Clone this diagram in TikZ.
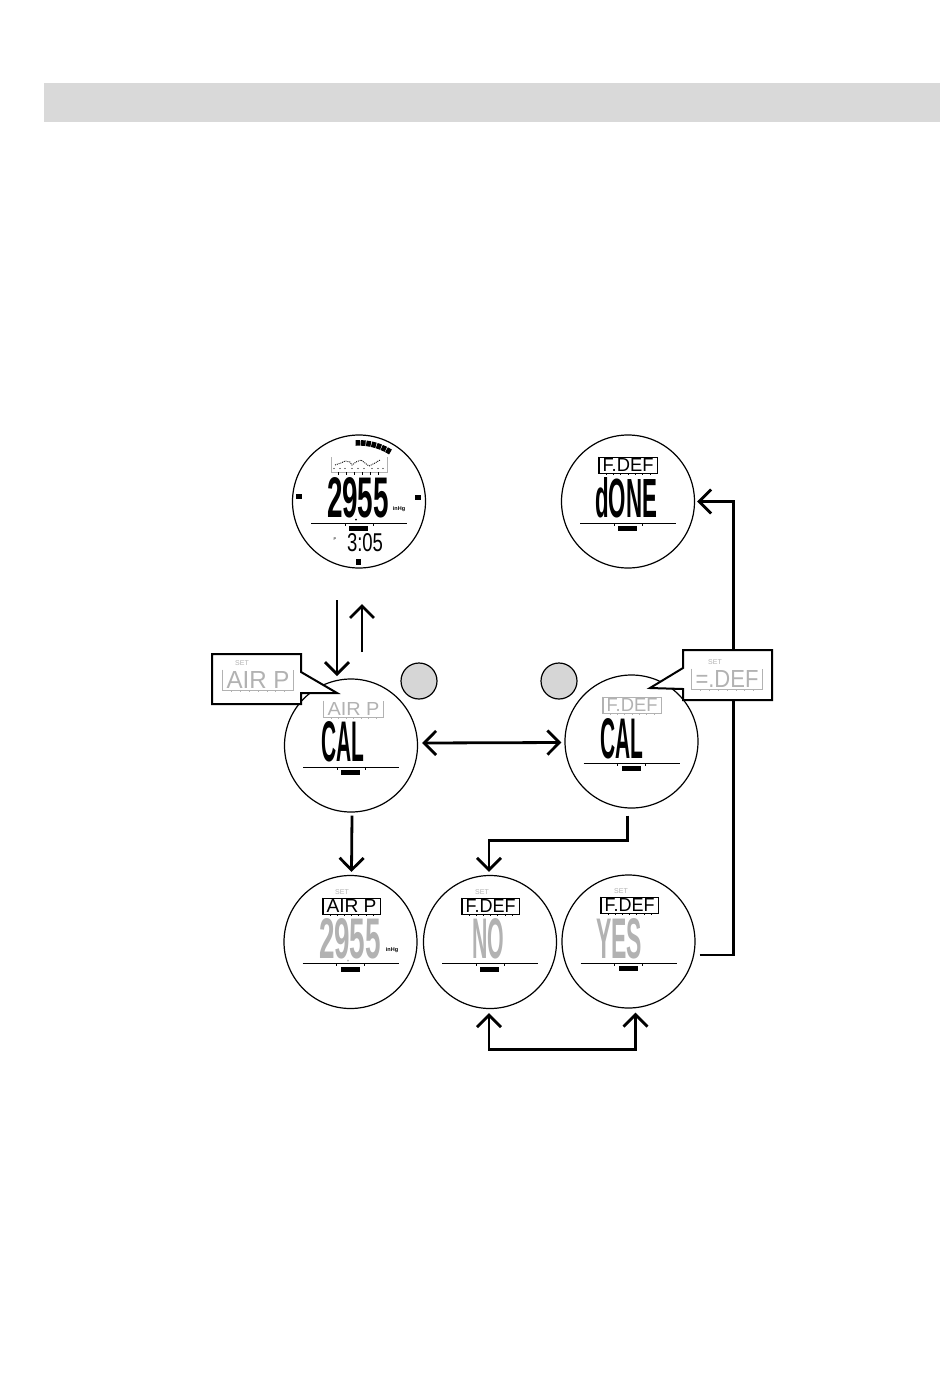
\documentclass[tikz,border=0pt]{standalone}
\usepackage{graphicx}
\usepackage{fontspec}
\setmainfont{Liberation Sans}
\usepackage{tikz}
\usetikzlibrary{arrows.meta, positioning, calc}
\definecolor{bandgrey}{gray}{0.85}
\definecolor{lcdgrey}{gray}{0.70}
\definecolor{discgrey}{gray}{0.84}
\tikzset{
    dial/.style={draw, circle, line width=1.2pt, fill=white, minimum size=133pt, inner sep=0pt},
    flow/.style={line width=2.8pt, -{Straight Barb[length=12pt, width=24pt]}},
    twoway/.style={line width=2.8pt, {Straight Barb[length=12pt, width=24pt]}-{Straight Barb[length=12pt, width=24pt]}},
    callout/.style={draw, fill=white, line width=2pt, miter limit=10},
    disc/.style={draw, circle, fill=discgrey, line width=1.2pt, minimum size=36pt, inner sep=0pt},
    tagbox/.style={inner sep=0pt, line width=0.6pt},
    smalltxt/.style={inner sep=0pt, font=\fontsize{7}{7}\selectfont}
}
\newcommand{\tagh}{13}
% dial with the rule, the bar and two ticks
\newcommand{\lcddial}[3]{
    \node[dial] (#1) at (#2,#3) {};
    \draw[line width=1pt] ($(#1.center)+(-48,21.5)$) -- ($(#1.center)+(48,21.5)$);
    \fill ($(#1.center)+(-10,24.5)$) rectangle ($(#1.center)+(9,29.5)$);
    \draw[line width=0.6pt] ($(#1.center)+(-14,21.5)$) -- ++(0,2.5);
    \draw[line width=0.6pt] ($(#1.center)+(14,21.5)$) -- ++(0,2.5);
}
% big segment text
\newcommand{\lcdbig}[6]{
    \node[inner sep=0pt, text=#5] (#1) at (#2,#3) {\resizebox{#4pt}{40pt}{\bfseries #6}};
}
% bracketed label with ticks
\newcommand{\lcdtag}[7][draw=none]{
    \node[tagbox, minimum width=#5pt, minimum height=\tagh pt+3pt, text=#6, #1] (#2) at (#3,#4) {\resizebox{\dimexpr#5pt-7pt}{\tagh pt}{#7}};
    \draw[#6, line width=0.7pt] (#2.north west) -- (#2.south west) -- (#2.south east) -- (#2.north east);
    \foreach \k in {1,...,7}
        \draw[#6, line width=0.6pt] ($(#2.south west)!\k/8!(#2.south east)$) -- ++(0,2);
}

\begin{document}
\begin{tikzpicture}[x=1pt, y=-1pt]
    \useasboundingbox (0,0) rectangle (950,1398);
    % Header band
    \fill[bandgrey] (44,83) rectangle (940,122);

    % Top left dial
    \lcddial{baro}{359}{501.5}
    \lcdbig{barodigits}{358}{498}{62}{black}{2955}
    \fill (356,519.5) circle (1pt);
    \node[smalltxt, font=\fontsize{5.5}{6}\bfseries\selectfont] (barounit) at (399,509) {inHg};
    \node[smalltxt, font=\fontsize{4}{4}\selectfont] (barop) at (335,539) {P};
    \node[inner sep=0pt] (barotime) at (365,543) {\resizebox{36pt}{18pt}{3:05}};
    \fill ($(baro.center)+(-63,-8)$) rectangle ($(baro.center)+(-57,-3)$);
    \fill ($(baro.center)+(56,-7)$) rectangle ($(baro.center)+(62,-2)$);
    \fill ($(baro.center)+(-3.5,57)$) rectangle ($(baro.center)+(1.5,63)$);
    \foreach \k in {0,...,6}{
        \pgfmathsetmacro{\ang}{91-\k*5.2}
        \node[fill, inner sep=0pt, minimum width=4.6pt, minimum height=5.6pt, rotate=\ang-90] (arc\k) at ($(baro.center)+(-\ang:58.6)$) {};
    }
    % History graph
    \draw[lcdgrey, line width=0.6pt] (331,457) -- (331,472) -- (387,472) -- (387,457);
    \draw[line width=0.9pt, densely dotted] (335,465) -- (341,463) -- (345,461) -- (350,462) -- (352,465) -- (356,462) -- (361,460) -- (365,463) -- (369,466) -- (375,463) -- (380,460);
    \foreach \xx in {334,340,345,352,358,364,372,378,383}
        \fill (\xx,468.5) circle (0.7pt);
    \foreach \xx in {338,346,354,362,370,378}
        \draw[line width=0.5pt] (\xx,472) -- (\xx,474.5);

    % Done dial
    \lcddial{done}{628}{501.5}
    \lcdtag[draw=black]{donetag}{628}{465}{58}{black}{F.DEF}
    \lcdbig{donetext}{626}{498}{62}{black}{dONE}

    % Calibration dials
    \lcddial{cala}{351}{745.5}
    \lcdtag{calatag}{353.5}{709}{59}{lcdgrey}{AIR P}
    \lcdbig{calatext}{342.5}{742}{43}{black}{CAL}
    \lcddial{calb}{631.5}{741.5}
    \lcdtag[draw=lcdgrey]{calbtag}{632}{705}{58}{lcdgrey}{F.DEF}
    \lcdbig{calbtext}{621.5}{738.5}{43}{black}{CAL}

    % Bottom row
    \lcddial{setair}{350.5}{942}
    \lcdtag[draw=black]{setairtag}{351.5}{906}{57}{black}{AIR P}
    \lcdbig{setairtext}{350}{939}{62}{lcdgrey}{2955}
    \fill[lcdgrey] (348,960.5) circle (1pt);
    \node[smalltxt, font=\fontsize{5.5}{6}\bfseries\selectfont] (setairunit) at (392,950) {inHg};
    \node[smalltxt, text=lcdgrey] (setairset) at (342,892) {SET};
    \lcddial{setno}{490}{942}
    \lcdtag[draw=black]{setnotag}{490.5}{906}{57}{black}{F.DEF}
    \lcdbig{setnotext}{488}{939}{32}{lcdgrey}{NO}
    \node[smalltxt, text=lcdgrey] (setnoset) at (482,892) {SET};
    \lcddial{setyes}{628.5}{941.5}
    \lcdtag[draw=black]{setyestag}{629.5}{905}{57}{black}{F.DEF}
    \lcdbig{setyestext}{619}{938.5}{46}{lcdgrey}{YES}
    \node[smalltxt, text=lcdgrey] (setyesset) at (621,891) {SET};

    % Grey discs
    \node[disc] (disca) at (419,681) {};
    \node[disc] (discb) at (559,681) {};

    % Arrows
    \coordinate (downfrom) at (337,600);
    \coordinate (downto) at (337,676);
    \coordinate (upfrom) at (362,652);
    \coordinate (upto) at (362,604);
    \draw[flow] (downfrom) -- (downto);
    \draw[flow] (upfrom) -- (upto);
    \draw[twoway] ($(cala.east)+(4,-2.5)$) -- ($(calb.west)+(-3,1)$);
    \draw[flow] ($(cala.south)+(1,3)$) -- ($(setair.north)+(1,-3)$);
    \draw[flow] ($(calb.south)+(-4,7)$) -- ++(0,25) -| ($(setno.north)+(-1,-3)$);
    \draw[twoway] ($(setno.south)+(-1,4)$) -- ++(0,36) -| ($(setyes.south)+(7,4)$);
    \draw[flow] ($(setyes.east)+(4,13.5)$) -- ++(34,0) |- ($(done.east)+(2,0)$);

    % Callouts
    \renewcommand{\tagh}{17}
    \draw[callout] (212,654) -- (301,654) -- (301,672) -- (337,693) -- (301,693) -- (301,704) -- (212,704) -- cycle;
    \node[smalltxt, text=lcdgrey] (setleft) at (242,663) {SET};
    \lcdtag{lefttag}{258}{680}{70}{lcdgrey}{AIR P}
    \draw[callout] (683,650) -- (772,650) -- (772,700) -- (683,700) -- (683,689) -- (650,688) -- (683,668) -- cycle;
    \node[smalltxt, text=lcdgrey] (setright) at (715,662) {SET};
    \lcdtag{righttag}{727}{679}{70}{lcdgrey}{=.DEF}
\end{tikzpicture}
\end{document}
